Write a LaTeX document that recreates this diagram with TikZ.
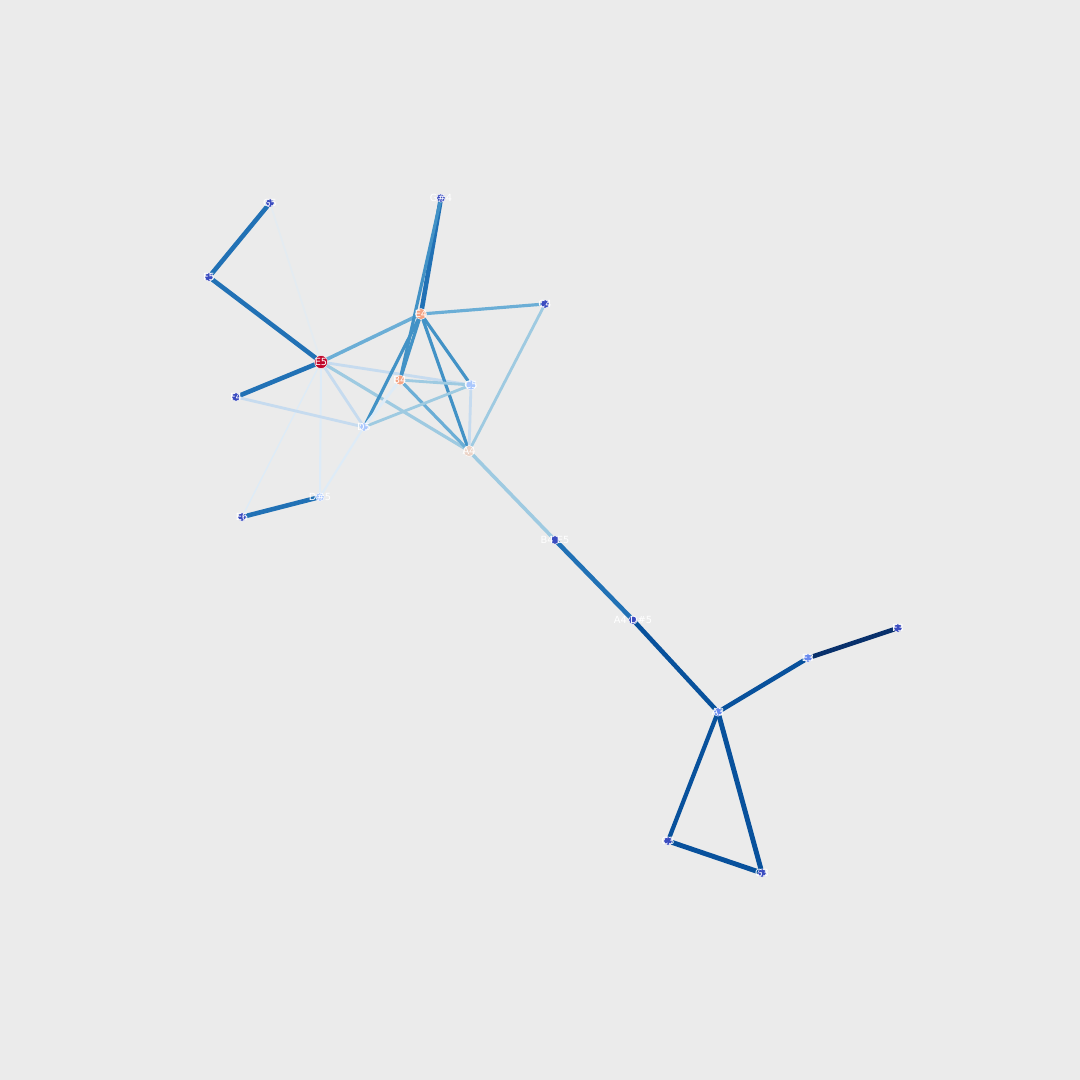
\documentclass[tikz,border=0pt]{standalone}
\usepackage{fontspec}
\setmainfont{DejaVu Sans}
\usetikzlibrary{positioning,backgrounds}
\definecolor{bgpanel}{HTML}{EBEBEB}
\definecolor{bluea}{HTML}{08306B}
\definecolor{blueb}{HTML}{08519C}
\definecolor{bluec}{HTML}{2171B5}
\definecolor{blued}{HTML}{4292C6}
\definecolor{bluee}{HTML}{6BAED6}
\definecolor{bluef}{HTML}{9ECAE1}
\definecolor{blueg}{HTML}{C6DBEF}
\definecolor{blueh}{HTML}{DEEBF7}
\definecolor{cwlow}{HTML}{3B4CC0}
\definecolor{cwmid}{HTML}{6788EE}
\definecolor{cwpale}{HTML}{AAC7FD}
\definecolor{cwsalmon}{HTML}{F4A383}
\definecolor{cwpink}{HTML}{EBD3C6}
\definecolor{cwhigh}{HTML}{C0072A}

\begin{document}
\begin{tikzpicture}[
  x=0.05cm,y=-0.05cm,
  font=\fontsize{14}{14}\selectfont,
  note/.style={circle,draw=white,line width=0.6pt,fill=cwlow,minimum size=0.42cm,inner sep=0pt,
    label={[text=white,inner sep=0pt]center:#1}},
  ew/.style={line width=#1pt,line cap=round}
]
\useasboundingbox (0,0) rectangle (1080,1080);

% notes
\node[note=G5] (G5) at (270,203) {};
\node[note=F5] (F5) at (209,277) {};
\node[note=E5,fill=cwhigh,minimum size=0.65cm] (E5) at (321,362) {};
\node[note=F4] (F4) at (236,397) {};
\node[note=D5,fill=cwpale] (D5) at (364,427) {};
\node[note=D\#5,fill=cwpale] (Ds5) at (320,497) {};
\node[note=E6] (E6) at (242,517) {};
\node[note=G\#4] (Gs4) at (441,198) {};
\node[note=E4,fill=cwsalmon,minimum size=0.55cm] (E4) at (421,314) {};
\node[note=C4] (C4) at (545,304) {};
\node[note=B4,fill=cwsalmon,minimum size=0.5cm] (B4) at (400,380) {};
\node[note=C5,fill=cwpale,minimum size=0.5cm] (C5) at (471,385) {};
\node[note=A4,fill=cwpink,minimum size=0.55cm] (A4) at (469,451) {};
\node[note=B4 E5] (B4E5) at (555,540) {};
\node[note=A4 D\#5] (A4Ds5) at (633,620) {};
\node[note=E3,fill=cwmid] (E3) at (808,658) {};
\node[note=F3] (F3) at (898,628) {};
\node[note=A3,fill=cwmid] (A3) at (718,712) {};
\node[note=C3] (C3) at (668,841) {};
\node[note=G3] (G3) at (762,873) {};

\begin{scope}[on background layer]
\fill[bgpanel] (0,0) rectangle (1080,1080);
% upper cluster
\draw[bluec,ew=6.5] (G5) -- (F5);
\draw[bluec,ew=6.5] (F5) -- (E5);
\draw[blueh!50!bgpanel,ew=2.5] (G5) -- (E5);
\draw[bluec,ew=6.5] (E5) -- (F4);
\draw[bluee,ew=5] (E5) -- (E4);
\draw[blueg,ew=4] (E5) -- (C5);
\draw[bluef,ew=4.5] (E5) -- (A4);
\draw[blueg,ew=4] (E5) -- (D5);
\draw[blueh,ew=3] (E5) -- (Ds5);
\draw[blueh,ew=2] (E5) -- (E6);
\draw[blueg,ew=4] (F4) -- (D5);
\draw[bluec,ew=6.5] (E4) -- (Gs4);
\draw[blued,ew=4.5] (Gs4) -- (B4);
\draw[bluee,ew=4.5] (E4) -- (C4);
\draw[blued,ew=4.5] (E4) -- (B4);
\draw[blued,ew=4.5] (E4) -- (C5);
\draw[blued,ew=4.5] (E4) -- (A4);
\draw[blued,ew=4.5] (E4) -- (D5);
\draw[bluef,ew=4] (C4) -- (A4);
\draw[bluef,ew=4] (B4) -- (C5);
\draw[bluee,ew=4.5] (B4) -- (A4);
\draw[blueh,ew=4] (B4) -- (D5);
\draw[blueg,ew=4] (C5) -- (A4);
\draw[bluef,ew=4] (C5) -- (D5);
\draw[blueh,ew=3] (D5) -- (Ds5);
\draw[bluec,ew=6.5] (Ds5) -- (E6);
% chain and lower cluster
\draw[bluef,ew=5] (A4) -- (B4E5);
\draw[bluec,ew=6.5] (B4E5) -- (A4Ds5);
\draw[blueb,ew=6.5] (A4Ds5) -- (A3);
\draw[blueb,ew=6.5] (A3) -- (E3);
\draw[bluea,ew=6.5] (E3) -- (F3);
\draw[blueb,ew=6] (A3) -- (C3);
\draw[blueb,ew=7] (A3) -- (G3);
\draw[blueb,ew=7] (C3) -- (G3);
\end{scope}
\end{tikzpicture}
\end{document}
